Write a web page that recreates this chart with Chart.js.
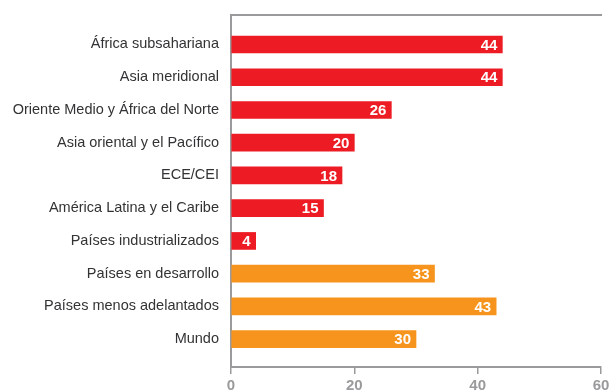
<!DOCTYPE html>
<html>
<head>
<meta charset="utf-8">
<script src="https://cdn.jsdelivr.net/npm/chart.js@4"></script>
<style>
  html, body { margin: 0; padding: 0; background: #fff; overflow: hidden; }
  #wrap { width: 620px; height: 400px; }
</style>
</head>
<body>
<div id="wrap"><canvas id="bars"></canvas></div>
<script>
// regions and groups, top to bottom
const categories = [
  "África subsahariana",
  "Asia meridional",
  "Oriente Medio y África del Norte",
  "Asia oriental y el Pacífico",
  "ECE/CEI",
  "América Latina y el Caribe",
  "Países industrializados",
  "Países en desarrollo",
  "Países menos adelantados",
  "Mundo"
];
const values = [44, 44, 26, 20, 18, 15, 4, 33, 43, 30];
// first seven are regions (red), last three are aggregates (orange)
const groups = ["r", "r", "r", "r", "r", "r", "r", "a", "a", "a"];
const xTicks = [0, 20, 40, 60];

const RED = "#ed1c24";
const ORANGE = "#f7941d";
const AXIS = "#9a9a9c";

// white value text at the end of each bar
const valueLabels = {
  id: "valueLabels",
  afterDatasetsDraw(chart) {
    const ctx = chart.ctx;
    const meta = chart.getDatasetMeta(0);
    ctx.save();
    ctx.fillStyle = "#fff";
    ctx.font = "bold 15px 'Liberation Sans', Arial, sans-serif";
    ctx.textAlign = "right";
    ctx.textBaseline = "middle";
    meta.data.forEach((bar, i) => {
      ctx.fillText(String(values[i]), bar.x - 5, bar.y + 1);
    });
    ctx.restore();
  }
};

// keep the frame where the layout padding puts it
function noEdgePadding(s) {
  s.paddingTop = 0;
  s.paddingBottom = 0;
}

new Chart(document.getElementById("bars"), {
  type: "bar",
  data: {
    datasets: [{
      data: values.map((v, i) => ({ x: v, y: i })),
      backgroundColor: groups.map(g => g === "r" ? RED : ORANGE),
      barThickness: 17,
      borderWidth: 0
    }]
  },
  options: {
    indexAxis: "y",
    responsive: true,
    maintainAspectRatio: false,
    animation: false,
    layout: { padding: { top: 15, right: 19, left: 0, bottom: 0 } },
    plugins: { legend: { display: false }, tooltip: { enabled: false } },
    scales: {
      x: {
        type: "linear",
        position: "bottom",
        bounds: "data",
        min: 0,
        max: 60,
        afterBuildTicks: s => { s.ticks = xTicks.map(v => ({ value: v })); },
        afterFit: s => { s.height = 33; },
        grid: { drawOnChartArea: false, drawTicks: true, tickLength: 7, color: AXIS, lineWidth: 1.5 },
        border: { display: true, color: AXIS, width: 2 },
        ticks: {
          color: AXIS,
          padding: 3,
          font: { family: "'Liberation Sans', Arial, sans-serif", size: 15, weight: "bold" }
        }
      },
      xTop: {
        type: "linear",
        position: "top",
        bounds: "data",
        min: 0,
        max: 60,
        afterFit: s => { s.height = 0; noEdgePadding(s); },
        grid: { display: false, drawTicks: false },
        border: { display: true, color: AXIS, width: 2 },
        ticks: { display: false }
      },
      y: {
        type: "linear",
        reverse: true,
        offset: false,
        bounds: "data",
        min: -0.9,
        max: 9.85,
        afterBuildTicks: s => { s.ticks = categories.map((c, i) => ({ value: i })); },
        afterFit: s => { s.width = 231; noEdgePadding(s); },
        grid: { display: false, drawTicks: false, offset: false },
        border: { display: true, color: AXIS, width: 2 },
        ticks: {
          autoSkip: false,
          color: "#333335",
          padding: 12,
          font: { family: "'Liberation Sans', Arial, sans-serif", size: 14.5 },
          callback: v => categories[v]
        }
      }
    }
  },
  plugins: [valueLabels]
});
</script>
</body>
</html>
